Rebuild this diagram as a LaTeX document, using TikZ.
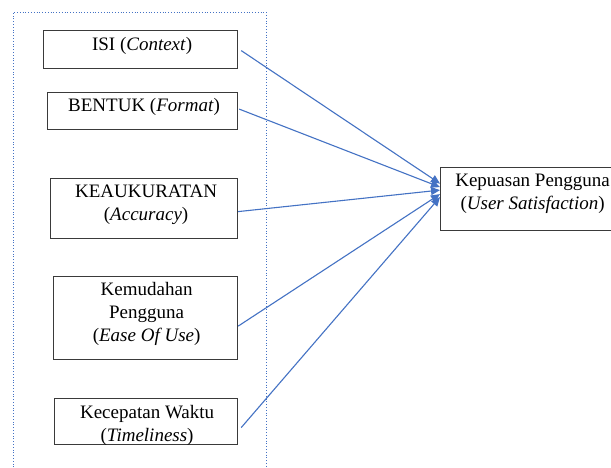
\documentclass[tikz,border=0pt]{standalone}
\usepackage{fontspec}
\setmainfont{Liberation Serif}
\usetikzlibrary{arrows.meta}
\definecolor{lineblue}{HTML}{4472C4}
\definecolor{boxgray}{HTML}{3A3A3A}
\begin{document}
\begin{tikzpicture}[x=1pt,y=-1pt,
  box/.style={draw=boxgray, line width=1.2pt, inner sep=0pt, anchor=north west},
  lbl/.style={anchor=north, inner sep=0pt, align=center, font=\fontsize{19}{23}\selectfont},
  conn/.style={draw=lineblue, line width=1.1pt, -{Triangle[length=9pt,width=8pt]}},
  framestyle/.style={draw=lineblue, dotted, line width=0.8pt}]
\useasboundingbox (0,0) rectangle (611,468);
\clip (0,0) rectangle (611,468);
\fill[white] (0,0) rectangle (611,468);
\draw[framestyle] (13,470) -- (13,12) -- (266,12) -- (266,470);
% boxes
\node[box, minimum width=194pt, minimum height=38pt] (isi) at (43,30) {};
\node[box, minimum width=190pt, minimum height=37pt] (bentuk) at (47,92) {};
\node[box, minimum width=187pt, minimum height=60pt] (akurasi) at (50,178) {};
\node[box, minimum width=184pt, minimum height=83pt] (mudah) at (53,276) {};
\node[box, minimum width=183pt, minimum height=46pt] (cepat) at (54,398) {};
\node[box, minimum width=184pt, minimum height=63pt] (tgt) at (440,167) {};
% labels
\node[lbl] (isiT) at ([xshift=1.5pt,yshift=-7pt]isi.north) {ISI (\textit{Context})};
\node[lbl] (bentukT) at ([xshift=1.5pt,yshift=-6pt]bentuk.north) {BENTUK (\textit{Format})};
\node[lbl] (akurasiT) at ([xshift=2pt,yshift=-7pt]akurasi.north) {KEAUKURATAN\\(\textit{Accuracy})};
\node[lbl] (mudahT) at ([xshift=1pt,yshift=-6pt]mudah.north) {Kemudahan\\Pengguna\\(\textit{Ease Of Use})};
\node[lbl] (cepatT) at ([xshift=1pt,yshift=-7pt]cepat.north) {Kecepatan Waktu\\(\textit{Timeliness})};
\node[lbl] (tgtT) at ([xshift=0pt,yshift=-7pt]tgt.north) {Kepuasan Pengguna\\(\textit{User Satisfaction})};
% connectors
\draw[conn] ([xshift=3pt,yshift=-1pt]isi.east) -- ([yshift=15.5pt]tgt.west);
\draw[conn] ([xshift=1pt,yshift=2pt]bentuk.east) -- ([yshift=12pt]tgt.west);
\draw[conn] ([yshift=-3pt]akurasi.east) -- ([yshift=9pt]tgt.west);
\draw[conn] ([yshift=-8pt]mudah.east) -- ([yshift=5pt]tgt.west);
\draw[conn] ([xshift=3pt,yshift=-6pt]cepat.east) -- ([yshift=2pt]tgt.west);
\end{tikzpicture}
\end{document}
